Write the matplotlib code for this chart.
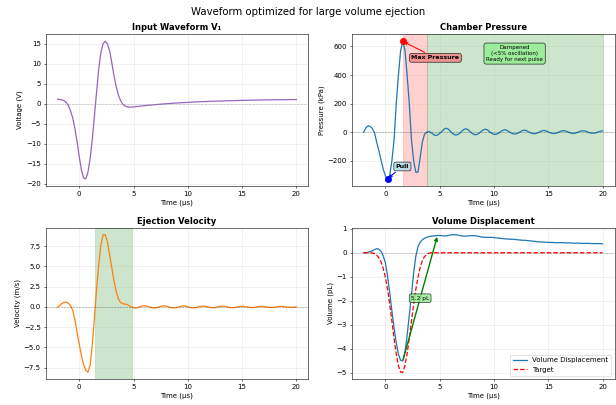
import numpy as np
import matplotlib.pyplot as plt

# time axis, 0.2 us steps from -2 to 20
time_us = np.round(np.arange(-2.0, 20.0001, 0.2), 2)

voltage = [
    1.1, 1.05, 0.95, 0.75, 0.35, -0.5, -1.8, -3.6, -6.2, -9.5,
    -13.3, -16.6, -18.6, -18.8, -17.2, -13.8, -9.0, -3.0, 3.0, 8.8,
    12.9, 15.0, 15.6, 14.9, 13.2, 10.2, 7.0, 4.3, 2.2, 0.8,
    -0.1, -0.55, -0.8, -0.85, -0.85, -0.82,
    -0.75, -0.69, -0.63, -0.57, -0.51, -0.45, -0.40, -0.35, -0.30, -0.25,
    -0.20, -0.15, -0.11, -0.07, -0.03, 0.02, 0.05, 0.09, 0.13, 0.16,
    0.20, 0.23, 0.26, 0.29, 0.32, 0.35, 0.38, 0.41, 0.43, 0.46,
    0.48, 0.50, 0.53, 0.55, 0.57, 0.59, 0.61, 0.63, 0.65, 0.67,
    0.68, 0.70, 0.72, 0.73, 0.75, 0.76, 0.78, 0.79, 0.81, 0.82,
    0.83, 0.84, 0.85, 0.87, 0.88, 0.89, 0.90, 0.91, 0.92, 0.93,
    0.94, 0.94, 0.95, 0.96, 0.97, 0.98, 0.98, 0.99, 1.00, 1.00,
    1.01, 1.02, 1.02, 1.03, 1.03,
]

pressure = [
    0, 30, 45, 40, 25, -5, -70, -130, -195, -258,
    -305, -326, -300, -200, -52, 200, 400, 570, 636, 574,
    400, 200, -52, -200, -280, -280, -180, -70, -15, 0,
    5, -2, -15, -23, -20, -8,
    5, 21, 28, 21, 5, -10, -19, -19, -10, 4,
    18, 24, 18, 4, -9, -17, -17, -9, 4, 16,
    21, 16, 3, -8, -15, -15, -8, 3, 13, 17,
    13, 3, -7, -12, -12, -7, 2, 11, 14, 11,
    2, -6, -10, -10, -6, 2, 9, 12, 9, 2,
    -5, -9, -9, -5, 2, 8, 11, 8, 2, -4,
    -8, -8, -4, 2, 8, 10, 8, 2, -4, -7,
    -7, -4, 2, 7, 9,
]

velocity = [
    0.0, 0.15, 0.4, 0.57, 0.6, 0.45, 0.15, -0.4, -1.6, -3.1,
    -4.6, -6.0, -7.1, -7.8, -8.05, -7.2, -4.7, -1.3, 2.3, 5.3,
    7.7, 8.9, 8.9, 8.0, 6.4, 4.8, 3.2, 1.9, 1.0, 0.55,
    0.4, 0.35, 0.3, 0.15, 0.0, -0.1,
    -0.14, -0.08, 0.03, 0.11, 0.15, 0.11, 0.03, -0.07, -0.13, -0.13,
    -0.07, 0.02, 0.10, 0.13, 0.10, 0.02, -0.06, -0.12, -0.12, -0.06,
    0.02, 0.09, 0.12, 0.09, 0.02, -0.06, -0.11, -0.11, -0.06, 0.02,
    0.08, 0.10, 0.08, 0.02, -0.05, -0.10, -0.10, -0.05, 0.02, 0.07,
    0.09, 0.07, 0.02, -0.05, -0.09, -0.09, -0.05, 0.01, 0.06, 0.08,
    0.06, 0.01, -0.04, -0.08, -0.08, -0.04, 0.01, 0.06, 0.08, 0.06,
    0.01, -0.04, -0.07, -0.07, -0.04, 0.01, 0.05, 0.07, 0.05, 0.01,
    -0.03, -0.06, -0.06, -0.03, 0.01,
]

volume = [
    0.0, 0.0, 0.02, 0.05, 0.08, 0.13, 0.17, 0.15, 0.06, -0.13,
    -0.42, -0.98, -1.68, -2.42, -3.13, -3.75, -4.22, -4.47, -4.5, -4.15,
    -3.45, -2.6, -1.75, -0.85, -0.15, 0.25, 0.44, 0.54, 0.60, 0.64,
    0.67, 0.69, 0.70, 0.71, 0.72, 0.72,
    0.71, 0.70, 0.70, 0.72, 0.74, 0.75, 0.75, 0.74, 0.72, 0.70,
    0.69, 0.69, 0.70, 0.71, 0.71, 0.71, 0.70, 0.68, 0.66, 0.65,
    0.64, 0.64, 0.64, 0.64, 0.63, 0.62, 0.61, 0.60, 0.59, 0.58,
    0.57, 0.57, 0.56, 0.56, 0.55, 0.54, 0.53, 0.52, 0.52, 0.51,
    0.50, 0.49, 0.48, 0.47, 0.46, 0.45, 0.45, 0.44, 0.44, 0.43,
    0.43, 0.43, 0.42, 0.42, 0.42, 0.42, 0.42, 0.41, 0.41, 0.41,
    0.40, 0.40, 0.40, 0.40, 0.39, 0.39, 0.39, 0.39, 0.39, 0.38,
    0.38, 0.38, 0.38, 0.38, 0.37,
]

target = [
    0.0, 0.0, 0.0, 0.0, -0.01, -0.04, -0.10, -0.21, -0.38, -0.65,
    -1.02, -1.53, -2.15, -2.85, -3.56, -4.21, -4.70, -4.97, -4.97, -4.70,
    -4.21, -3.56, -2.85, -2.15, -1.53, -1.02, -0.62, -0.33, -0.16, -0.07,
    -0.02,
] + [0.0] * 80

# phase boundaries (us)
pressure_phase_end = 3.8
eject_start, eject_end = 1.45, 4.85
volume_end_t = 4.8

fig, axes = plt.subplots(2, 2, figsize=(12.32, 8.1), dpi=50)
fig.subplots_adjust(left=0.074, right=0.9976, top=0.915, bottom=0.064,
                    wspace=0.165, hspace=0.279)
fig.suptitle('Waveform optimized for large volume ejection', fontsize=14.5, y=0.983)

# input waveform
ax = axes[0, 0]
ax.plot(time_us, voltage, color='#9467bd', lw=1.8)
ax.axhline(0, color='gray', ls='--', lw=1.0, alpha=0.4)
ax.set_title('Input Waveform V\u2081', fontweight='bold', fontsize=12)
ax.set_xlabel('Time (\u00b5s)')
ax.set_ylabel('Voltage (V)')
ax.grid(True, alpha=0.3)

# chamber pressure
ax = axes[0, 1]
p = np.array(pressure)
i_max = int(np.argmax(p))
i_min = int(np.argmin(p))
ax.axvspan(time_us[i_max], pressure_phase_end, color='red', alpha=0.18)
ax.axvspan(pressure_phase_end, time_us[-1], color='green', alpha=0.2)
ax.plot(time_us, p, color='#1f77b4', lw=1.8)
ax.axhline(0, color='k', ls='--', lw=0.8, alpha=0.4)
ax.plot(time_us[i_max], p[i_max], 'o', color='red', ms=9)
ax.plot(time_us[i_min], p[i_min], 'o', color='blue', ms=9)
ax.annotate('Max Pressure', xy=(time_us[i_max], p[i_max]), xytext=(2.4, 520),
            va='center', fontsize=9, fontweight='bold',
            bbox=dict(boxstyle='round,pad=0.3', facecolor='lightcoral', alpha=0.8),
            arrowprops=dict(arrowstyle='->', color='red', lw=1.5))
ax.annotate('Pull', xy=(time_us[i_min], p[i_min]), xytext=(0.95, -240),
            va='center', fontsize=9, fontweight='bold',
            bbox=dict(boxstyle='round,pad=0.3', facecolor='lightblue', alpha=0.8),
            arrowprops=dict(arrowstyle='->', color='blue', lw=1.5))
ax.text(11.9, 550, 'Dampened\n(<5% oscillation)\nReady for next pulse',
        ha='center', va='center', fontsize=8,
        bbox=dict(boxstyle='round,pad=0.4', facecolor='lightgreen', alpha=0.8))
ax.set_title('Chamber Pressure', fontweight='bold', fontsize=12)
ax.set_xlabel('Time (\u00b5s)')
ax.set_ylabel('Pressure (kPa)')
ax.grid(True, alpha=0.3)

# ejection velocity
ax = axes[1, 0]
ax.axvspan(eject_start, eject_end, color='green', alpha=0.2)
ax.plot(time_us, velocity, color='#ff7f0e', lw=1.8)
ax.axhline(0, color='k', ls='--', lw=0.8, alpha=0.4)
ax.set_title('Ejection Velocity', fontweight='bold', fontsize=12)
ax.set_xlabel('Time (\u00b5s)')
ax.set_ylabel('Velocity (m/s)')
ax.grid(True, alpha=0.3)

# volume displacement
ax = axes[1, 1]
v = np.array(volume)
j_min = int(np.argmin(v))
j_end = int(np.argmin(np.abs(time_us - volume_end_t)))
ax.plot(time_us, v, color='#1f77b4', lw=1.8, label='Volume Displacement')
ax.plot(time_us, target, color='red', ls='--', lw=1.8, label='Target')
ax.axhline(0, color='k', ls='--', lw=0.8, alpha=0.3)
ax.annotate('', xy=(time_us[j_end], v[j_end]), xytext=(time_us[j_min], v[j_min]),
            arrowprops=dict(arrowstyle='-|>', color='green', lw=2))
ax.text((time_us[j_min] + time_us[j_end]) / 2, (v[j_min] + v[j_end]) / 2,
        f'{v[j_end] - v[j_min]:.1f} pL', ha='center', va='center', fontsize=8.5,
        bbox=dict(boxstyle='round,pad=0.3', facecolor='lightgreen', alpha=0.8))
ax.set_title('Volume Displacement', fontweight='bold', fontsize=12)
ax.set_xlabel('Time (\u00b5s)')
ax.set_ylabel('Volume (pL)')
ax.legend(loc='lower right', fontsize=10)
ax.grid(True, alpha=0.3)

fig.savefig('out.png', dpi=50)
